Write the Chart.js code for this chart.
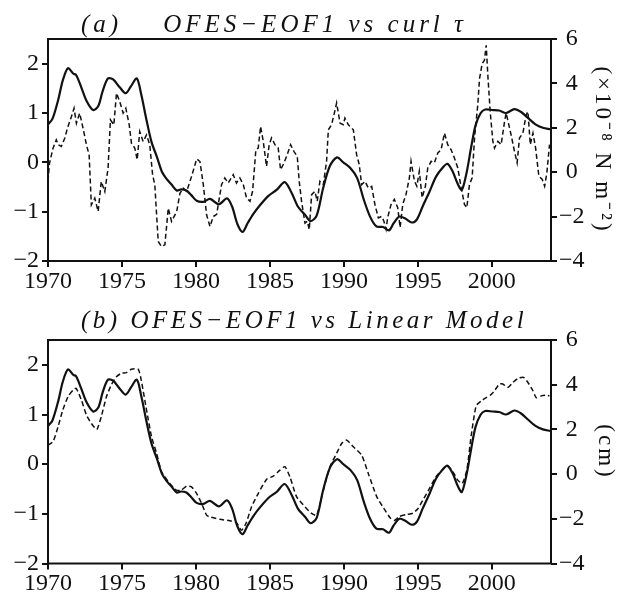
<!DOCTYPE html>
<html>
<head>
<meta charset="utf-8">
<script src="https://cdn.jsdelivr.net/npm/chart.js@4/dist/chart.umd.min.js"></script>
<style>
    body { margin: 0; background: #fff; }
    #wrap { position: relative; width: 619px; height: 597px; }
    canvas { position: absolute; left: 0; }
</style>
</head>
<body>
<div id="wrap">
    <canvas id="chartA" width="619" height="300" style="top:0"></canvas>
    <canvas id="chartB" width="619" height="297" style="top:300px"></canvas>
</div>
<script>
// OFES-EOF1 (left axis, both panels)
const eof1Years = [1970.0, 1970.3, 1970.7, 1971.0, 1971.35, 1971.7, 1971.9, 1972.25, 1972.6, 1973.05, 1973.4, 1973.7,
    1974.05, 1974.4, 1974.85, 1975.25, 1975.6, 1976.0, 1976.3, 1976.65, 1977.0, 1977.35, 1977.7, 1978.0, 1978.35,
    1978.7, 1979.0, 1979.35, 1979.7, 1980.05, 1980.5, 1980.95, 1981.55, 1982.1, 1982.45, 1982.8, 1983.15, 1983.5,
    1983.87, 1984.3, 1984.9, 1985.45, 1986.0, 1986.47, 1986.9, 1987.37, 1987.75, 1988.16, 1988.6, 1989.06, 1989.53,
    1989.96, 1990.45, 1990.9, 1991.35, 1991.77, 1992.2, 1992.65, 1993.05, 1993.35, 1993.75, 1994.15, 1994.6, 1994.95,
    1995.33, 1995.78, 1996.23, 1996.7, 1997.0, 1997.36, 1997.7, 1997.97, 1998.3, 1998.6, 1998.9, 1999.25, 1999.55,
    2000.07, 2000.5, 2000.97, 2001.53, 2001.98, 2002.44, 2002.95, 2003.45, 2003.95];
const eof1 = [0.77, 0.88, 1.28, 1.66, 1.91, 1.8, 1.77, 1.52, 1.25, 1.06, 1.14, 1.45,
    1.70, 1.68, 1.52, 1.40, 1.54, 1.70, 1.38, 0.87, 0.41, 0.12, -0.19, -0.33, -0.45,
    -0.57, -0.55, -0.57, -0.67, -0.78, -0.8, -0.74, -0.85, -0.73, -0.9, -1.25, -1.41, -1.23,
    -1.05, -0.88, -0.68, -0.56, -0.4, -0.62, -0.9, -1.06, -1.19, -1.08, -0.52, -0.07, 0.1,
    0.0, -0.12, -0.32, -0.76, -1.1, -1.3, -1.31, -1.38, -1.24, -1.1, -1.14, -1.22, -1.15,
    -0.89, -0.6, -0.29, -0.1, -0.03, -0.19, -0.44, -0.56, -0.2, 0.3, 0.75, 1.0, 1.07,
    1.06, 1.05, 1.0, 1.08, 1.02, 0.9, 0.77, 0.7, 0.67];

// curl tau (right axis, panel a)
const curlYears = [1970.0, 1970.1, 1970.34, 1970.56, 1970.7, 1970.9, 1971.13, 1971.35, 1971.58, 1971.76, 1971.92,
    1972.14, 1972.37, 1972.6, 1972.78, 1972.93, 1973.16, 1973.39, 1973.6, 1973.84, 1974.06, 1974.22, 1974.45,
    1974.63, 1974.85, 1975.08, 1975.26, 1975.49, 1975.64, 1975.87, 1976.03, 1976.2, 1976.43, 1976.66, 1976.88,
    1977.07, 1977.22, 1977.45, 1977.67, 1977.9, 1978.13, 1978.35, 1978.7, 1978.92, 1979.14, 1979.37, 1979.7,
    1980.05, 1980.27, 1980.5, 1980.72, 1980.95, 1981.17, 1981.4, 1981.73, 1981.95, 1982.18, 1982.52, 1982.74,
    1982.97, 1983.2, 1983.42, 1983.65, 1983.83, 1984.05, 1984.21, 1984.37, 1984.55, 1984.77, 1984.95, 1985.11,
    1985.34, 1985.56, 1985.72, 1985.95, 1986.17, 1986.4, 1986.62, 1986.85, 1986.98, 1987.14, 1987.37, 1987.53,
    1987.66, 1987.82, 1988.04, 1988.2, 1988.38, 1988.61, 1988.83, 1988.95, 1989.17, 1989.33, 1989.51, 1989.74,
    1989.96, 1990.07, 1990.3, 1990.64, 1990.86, 1991.04, 1991.2, 1991.43, 1991.65, 1991.88, 1992.1, 1992.33,
    1992.55, 1992.7, 1992.85, 1992.96, 1993.19, 1993.41, 1993.64, 1993.8, 1993.98, 1994.2, 1994.43, 1994.54,
    1994.77, 1994.93, 1995.1, 1995.29, 1995.51, 1995.67, 1995.9, 1996.12, 1996.35, 1996.57, 1996.8, 1997.02,
    1997.25, 1997.47, 1997.7, 1997.93, 1998.15, 1998.31, 1998.49, 1998.67, 1998.83, 1999.05, 1999.17, 1999.35,
    1999.5, 1999.62, 1999.73, 1999.89, 2000.07, 2000.18, 2000.41, 2000.63, 2000.86, 2000.97, 2001.3, 2001.53,
    2001.71, 2001.87, 2002.1, 2002.32, 2002.44, 2002.6, 2002.78, 2002.96, 2003.18, 2003.41, 2003.57, 2003.72, 2003.9];
const curl = [-0.4, 0.4, 1.08, 1.46, 1.23, 1.16, 1.53, 2.06, 2.5, 2.88, 2.2,
    2.66, 1.98, 1.23, 0.78, -1.47, -1.17, -1.77, -0.42, -0.87, 0.18, 2.36, 2.13,
    3.56, 3.18, 2.66, 2.88, 2.13, 1.31, 1.08, 0.56, 1.83, 1.38, 1.68, 1.23,
    -0.12, -0.57, -3.12, -3.35, -3.27, -1.62, -2.22, -1.77, -0.95, -0.72, -0.87, -0.2,
    0.6, 0.48, -0.57, -1.92, -2.45, -2.0, -1.9, -0.56, -0.26, -0.49, -0.11, -0.49,
    -0.26, -0.56, -1.16, -1.31, -0.86, 1.01, 1.09, 2.06, 1.39, 0.26, 1.24, 1.54,
    1.24, 1.09, 0.11, 0.41, 0.79, 1.24, 0.94, 0.71, -0.41, -1.31, -2.29, -2.21,
    -2.59, -1.01, -0.86, -1.31, -0.41, -0.56, 0.49, 1.91, 2.14, 2.59, 3.12, 2.21,
    2.14, 2.44, 2.14, 1.91, 0.79, 0.34, -0.56, -0.41, -0.71, -0.64, -1.46, -2.06,
    -1.99, -2.2, -2.57, -2.04, -1.45, -1.22, -1.6, -2.49, -1.45, -1.0, -0.25, 0.49,
    -0.4, -0.63, 0.04, -1.15, -0.63, 0.19, 0.49, 0.42, 0.87, 1.01, 1.76, 1.24,
    1.01, 0.64, 0.19, -0.7, -1.45, -1.6, -0.55, -0.25, 1.54, 3.03, 4.22, 4.9,
    5.04, 5.72, 4.37, 2.73, 1.39, 1.09, 1.39, 1.24, 2.28, 2.66, 1.69, 0.94,
    0.42, 1.54, 1.76, 2.58, 2.73, 1.24, 1.76, 1.09, -0.18, -0.33, -0.63, -0.03, 1.24];

// linear model (right axis, panel b)
const modelYears = [1970.0, 1970.34, 1970.68, 1971.0, 1971.35, 1971.7, 1971.9, 1972.26, 1972.6, 1972.93, 1973.3,
    1973.6, 1973.95, 1974.28, 1974.63, 1974.96, 1975.3, 1975.64, 1976.1, 1976.3, 1976.66, 1977.0, 1977.34, 1977.67,
    1977.9, 1978.23, 1978.68, 1979.0, 1979.37, 1979.7, 1980.05, 1980.38, 1980.72, 1980.95, 1981.62, 1982.29, 1982.74,
    1983.08, 1983.38, 1983.76, 1984.21, 1984.77, 1985.23, 1985.68, 1986.01, 1986.35, 1986.8, 1987.37, 1987.82,
    1988.16, 1988.61, 1989.06, 1989.51, 1989.85, 1990.19, 1990.64, 1991.2, 1991.65, 1992.22, 1992.67, 1993.12,
    1993.4, 1993.75, 1994.2, 1994.66, 1995.0, 1995.33, 1995.78, 1996.23, 1996.69, 1997.02, 1997.36, 1997.7, 1998.0,
    1998.31, 1998.6, 1998.94, 1999.28, 1999.62, 1999.96, 2000.18, 2000.52, 2000.74, 2001.08, 2001.42, 2001.76,
    2002.14, 2002.44, 2002.78, 2003.0, 2003.34, 2003.68, 2003.9];
const model = [1.3, 1.45, 2.12, 2.87, 3.46, 3.76, 3.84, 3.31, 2.64, 2.27, 2.0,
    2.57, 3.46, 3.99, 4.36, 4.51, 4.54, 4.69, 4.69, 4.21, 2.87, 1.67, 0.93, 0.1,
    -0.12, -0.42, -0.72, -0.72, -0.54, -0.57, -0.87, -1.31, -1.84, -1.92, -2.02, -2.09, -2.18,
    -2.51, -2.21, -1.46, -0.87, -0.24, -0.09, 0.18, 0.33, -0.12, -1.01, -1.46, -1.76,
    -1.84, -0.72, 0.33, 0.93, 1.37, 1.52, 1.22, 0.85, 0.03, -1.01, -1.5, -1.95,
    -2.08, -1.9, -1.81, -1.75, -1.55, -1.18, -0.65, -0.12, 0.21, 0.36, 0.11, -0.27, -0.42,
    0.18, 1.69, 3.05, 3.27, 3.42, 3.57, 3.73, 4.03, 4.03, 3.88, 4.1, 4.28,
    4.33, 4.1, 3.73, 3.42, 3.5, 3.53, 3.5];

const yearTicks = [1970, 1975, 1980, 1985, 1990, 1995, 2000];
const leftTicks = [-2, -1, 0, 1, 2];
const rightTicks = [-4, -2, 0, 2, 4, 6];

const INK = '#111';
const FONT = 'Liberation Serif';

function fmt(v) {
    return v < 0 ? '\u2212' + (-v) : String(v);
}

function toPoints(xs, ys) {
    return xs.map((x, i) => ({ x: x, y: ys[i] }));
}

// frame around the plot + panel title + rotated right-hand unit label
const panelText = {
    id: 'panelText',
    afterDraw(chart, args, opts) {
        const ctx = chart.ctx;
        const a = chart.chartArea;
        ctx.save();
        ctx.strokeStyle = INK;
        ctx.lineWidth = 2;
        ctx.strokeRect(a.left, a.top, a.right - a.left, a.bottom - a.top);

        ctx.fillStyle = INK;
        ctx.font = 'italic 25px "' + FONT + '"';
        ctx.letterSpacing = opts.titleSpacing;
        ctx.textAlign = 'left';
        ctx.textBaseline = 'alphabetic';
        ctx.fillText(opts.title, 81, opts.titleY);

        ctx.translate(opts.sideX, opts.sideY);
        ctx.rotate(Math.PI / 2);
        ctx.font = '23px "' + FONT + '"';
        ctx.letterSpacing = opts.sideSpacing;
        ctx.textAlign = 'center';
        ctx.textBaseline = 'middle';
        ctx.fillText(opts.side, 0, 0);
        ctx.restore();
    }
};

function axisGrid() {
    return { display: true, drawOnChartArea: false, drawTicks: true, tickLength: 6, color: INK, lineWidth: 2 };
}

function makePanel(id, cfg) {
    new Chart(document.getElementById(id).getContext('2d'), {
        type: 'line',
        data: {
            datasets: [{
                data: toPoints(eof1Years, eof1),
                yAxisID: 'y',
                borderColor: INK,
                borderWidth: 2.2,
                pointRadius: 0,
                tension: 0.3
            }, {
                data: toPoints(cfg.xs, cfg.ys),
                yAxisID: 'y1',
                borderColor: INK,
                borderWidth: 1.5,
                borderDash: [5, 3],
                pointRadius: 0,
                tension: cfg.tension
            }]
        },
        options: {
            responsive: false,
            animation: false,
            layout: { padding: { top: cfg.top, left: 0, right: 0, bottom: 0 } },
            plugins: {
                legend: { display: false },
                tooltip: { enabled: false },
                panelText: cfg.text
            },
            scales: {
                x: {
                    type: 'linear',
                    min: 1970,
                    max: 2004,
                    afterBuildTicks: s => { s.ticks = yearTicks.map(v => ({ value: v })); },
                    afterFit: s => { s.height = cfg.bottomH; },
                    grid: axisGrid(),
                    border: { display: false },
                    ticks: {
                        color: INK,
                        font: { family: FONT, size: 24 },
                        padding: 0,
                        maxRotation: 0,
                        autoSkip: false,
                        callback: v => String(v)
                    }
                },
                y: {
                    position: 'left',
                    min: -2,
                    max: 2.5,
                    afterBuildTicks: s => { s.ticks = leftTicks.map(v => ({ value: v })); },
                    afterFit: s => { s.width = 48; },
                    grid: axisGrid(),
                    border: { display: false },
                    ticks: { color: INK, font: { family: FONT, size: 24 }, padding: 3, callback: fmt }
                },
                y1: {
                    position: 'right',
                    min: -4,
                    max: 6,
                    afterBuildTicks: s => { s.ticks = rightTicks.map(v => ({ value: v })); },
                    afterFit: s => { s.width = 68; },
                    grid: axisGrid(),
                    border: { display: false },
                    ticks: { color: INK, font: { family: FONT, size: 24 }, padding: 2, crossAlign: 'center', callback: fmt }
                }
            }
        },
        plugins: [panelText]
    });
}

makePanel('chartA', {
    xs: curlYears, ys: curl, tension: 0, top: 39, bottomH: 39,
    text: {
        title: '(a)    OFES\u2212EOF1 vs curl \u03c4', titleY: 32, titleSpacing: '4px',
        side: '(\u00d710\u207b\u2078 N m\u207b\u00b2)', sideX: 602, sideY: 150, sideSpacing: '3px'
    }
});

makePanel('chartB', {
    xs: modelYears, ys: model, tension: 0.2, top: 40, bottomH: 33.5,
    text: {
        title: '(b) OFES\u2212EOF1 vs Linear Model', titleY: 28, titleSpacing: '3.5px',
        side: '(cm)', sideX: 605, sideY: 152, sideSpacing: '3px'
    }
});
</script>
</body>
</html>
